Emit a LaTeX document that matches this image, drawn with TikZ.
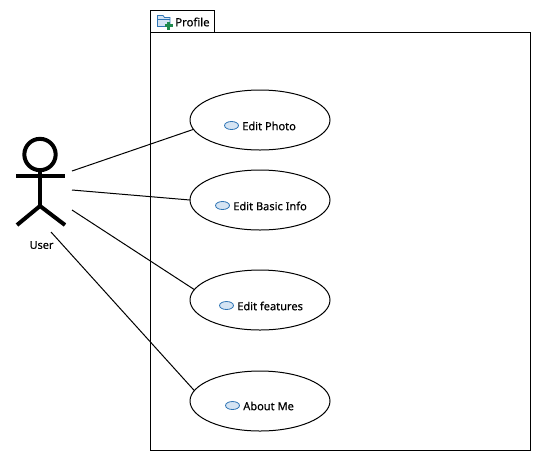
\documentclass[tikz,border=0pt]{standalone}
\usepackage{fontspec}
\setmainfont{Noto Sans}
\newfontfamily\labelfont[FakeBold=0.35]{Noto Sans}
\usetikzlibrary{shapes.geometric}
\definecolor{iconfill}{HTML}{D5E4F3}
\definecolor{iconline}{HTML}{2F75B5}
\definecolor{plusgreen}{HTML}{1E8A4C}
\tikzset{
  usecase/.style={draw=black,ellipse,line width=.75pt,minimum width=105pt,minimum height=45pt,inner sep=0pt,outer sep=0pt,fill=white},
  uclabel/.style={font=\labelfont\fontsize{8.3}{10}\selectfont,anchor=west,inner sep=0pt},
  ucicon/.style={draw=iconline,fill=iconfill,ellipse,line width=.6pt,minimum width=10.5pt,minimum height=6pt,inner sep=0pt},
  assoc/.style={draw=black,line width=.75pt},
  limb/.style={draw=black,line width=3pt},
  frameline/.style={draw=black,line width=.75pt}
}
\begin{document}
\begin{tikzpicture}[x=.75pt,y=-.75pt]
\useasboundingbox (0,0) rectangle (541,461);
% package frame
\draw[frameline] (150.5,32.5) -- (150.5,10.5) -- (214.5,10.5) -- (214.5,32.5);
\node[frameline,rectangle,minimum width=285pt,minimum height=313.5pt,inner sep=0pt,outer sep=0pt,anchor=north west] (pkg) at (150.5,32.5) {};
% folder icon
\draw[draw=iconline,fill=iconfill,line width=.6pt] (157.5,18.5) -- (157.5,15.5) -- (163,15.5) -- (164.5,17.5) -- (170,17.5) -- (170,26.5) -- (157.5,26.5) -- cycle;
\draw[draw=iconline,line width=.6pt] (157.5,19.5) -- (170,19.5);
\fill[plusgreen] (167,21.5) rectangle (170,29.5);
\fill[plusgreen] (164.5,24) rectangle (172.5,27);
\node[font=\labelfont\fontsize{8.5}{10}\selectfont,anchor=west,inner sep=0pt] (pkglabel) at (175,22) {Profile};
% use cases
\node[usecase] (ph) at (260,120) {};
\node[usecase] (bi) at (260,200) {};
\node[usecase] (fe) at (260,300) {};
\node[usecase] (ab) at (260,401) {};
\node[ucicon] (phi) at (231.5,125.5) {};
\node[uclabel] (phl) at (242,126) {Edit Photo};
\node[ucicon] (bii) at (222.5,205.5) {};
\node[uclabel] (bil) at (233,206) {Edit Basic Info};
\node[ucicon] (fei) at (226.5,305.5) {};
\node[uclabel] (fel) at (237,306) {Edit features};
\node[ucicon] (abi) at (232.5,405.5) {};
\node[uclabel] (abl) at (243,406) {About Me};
% actor
\node[draw=black,circle,line width=3pt,minimum size=23.5pt,inner sep=0pt] (head) at (40,154.5) {};
\coordinate (armL) at (16,176);
\coordinate (armR) at (65,176);
\coordinate (hip) at (40,206);
\coordinate (legL) at (17,225);
\coordinate (legR) at (65,225);
\draw[limb] (head.south) -- (hip);
\draw[limb] (armL) -- (armR);
\draw[limb] (legL) -- (hip) -- (legR);
\node[font=\labelfont\fontsize{8.2}{10}\selectfont,inner sep=0pt] (user) at (41.5,245) {User};
% connectors
\coordinate (a1) at (72,171);
\coordinate (a2) at (72,190);
\coordinate (a3) at (72,210);
\coordinate (a4) at (51,232);
\draw[assoc] (a1) -- (ph.188);
\draw[assoc] (a2) -- (bi.180);
\draw[assoc] (a3) -- (fe.171);
\draw[assoc] (a4) -- (ab.171);
\end{tikzpicture}
\end{document}
